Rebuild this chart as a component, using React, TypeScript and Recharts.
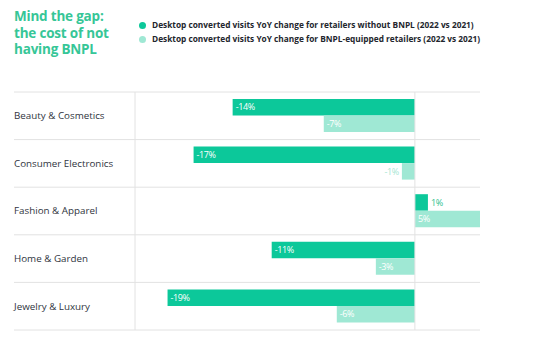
import { BarChart, Bar, XAxis, YAxis, CartesianGrid, ReferenceLine, LabelList } from "recharts";

const categories = ["Beauty & Cosmetics", "Consumer Electronics", "Fashion & Apparel", "Home & Garden", "Jewelry & Luxury"];
const withoutBnpl = [-14, -17, 1, -11, -19];
const withBnpl = [-7, -1, 5, -3, -6];

const seriesNames = [
  "Desktop converted visits YoY change for retailers without BNPL (2022 vs 2021)",
  "Desktop converted visits YoY change for BNPL-equipped retailers (2022 vs 2021)",
];
const titleLines = ["Mind the gap:", "the cost of not", "having BNPL"];

const DARK = "#0cc89a";
const LIGHT = "#9fe8d4";
const FONT = "'Open Sans', sans-serif";

const data = categories.map((name, i) => ({ name, without: withoutBnpl[i], withB: withBnpl[i] }));

const makeLabel = (outsideColor: string) => (props: any) => {
  const { x, y, width, height, value } = props;
  const left = Math.min(x, x + width);
  const right = Math.max(x, x + width);
  const w = Math.abs(width);
  const cy = y + height / 2;
  const text = `${value}%`;
  if (w < 20) {
    const neg = value < 0;
    return (
      <text x={neg ? left - 3 : right + 3} y={cy} dy="0.35em" textAnchor={neg ? "end" : "start"}
        fontSize={9} fontFamily={FONT} fill={outsideColor} letterSpacing={-0.4}>
        {text}
      </text>
    );
  }
  return (
    <text x={left + 3} y={cy} dy="0.35em" textAnchor="start" fontSize={9} fontFamily={FONT} fill="#fff" letterSpacing={-0.4}>
      {text}
    </text>
  );
};

const CategoryTick = (props: any) => {
  const { y, payload } = props;
  return (
    <text x={14} y={y} dy="0.35em" textAnchor="start" fontSize={9.8} fontFamily={FONT} fill="#2f3440">
      {payload.value}
    </text>
  );
};

export default function App() {
  return (
    <div style={{ position: "absolute", left: 0, top: 0, width: 542, height: 356, background: "#fff" }}>
      <div style={{ position: "absolute", left: 14, top: 8, fontFamily: FONT, fontWeight: 700, fontSize: 13.5, lineHeight: "16.5px", color: "#36c697", letterSpacing: -0.2 }}>
        {titleLines.map((t) => (
          <div key={t} style={{ height: 16.5 }}>{t}</div>
        ))}
      </div>
      <div style={{ position: "absolute", left: 139, top: 18, fontFamily: FONT, fontSize: 8.3, fontWeight: 700, color: "#23262d", lineHeight: "14px" }}>
        {seriesNames.map((s, i) => (
          <div key={s} style={{ display: "flex", alignItems: "center" }}>
            <span style={{ display: "inline-block", width: 7, height: 7, borderRadius: 4, background: i === 0 ? DARK : LIGHT, marginRight: 6 }} />
            {s}
          </div>
        ))}
      </div>
      <BarChart width={542} height={356} data={data} layout="vertical"
        margin={{ top: 92, right: 62, bottom: 26, left: 0 }} barGap={0} barSize={16.5}>
        <CartesianGrid vertical={false} stroke="#e2e2e2"
          horizontalCoordinatesGenerator={({ offset }: any) =>
            Array.from({ length: categories.length + 1 }, (_, i) => offset.top + (i * offset.height) / categories.length)}
          horizontal={(p: any) => <line key={p.key ?? p.index} x1={14} x2={p.x2} y1={p.y1} y2={p.y2} stroke="#e2e2e2" strokeWidth={1} />}
        />
        <XAxis type="number" domain={[-21.5, 5]} hide />
        <YAxis type="category" dataKey="name" width={135} tick={<CategoryTick />} tickLine={false} axisLine={{ stroke: "#e2e2e2" }} />
        <ReferenceLine x={0} stroke="#e2e2e2" />
        <Bar dataKey="without" name={seriesNames[0]} fill={DARK} isAnimationActive={false}>
          <LabelList dataKey="without" content={makeLabel("#2dbf8e")} />
        </Bar>
        <Bar dataKey="withB" name={seriesNames[1]} fill={LIGHT} isAnimationActive={false}>
          <LabelList dataKey="withB" content={makeLabel("#a8e6d3")} />
        </Bar>
      </BarChart>
    </div>
  );
}
